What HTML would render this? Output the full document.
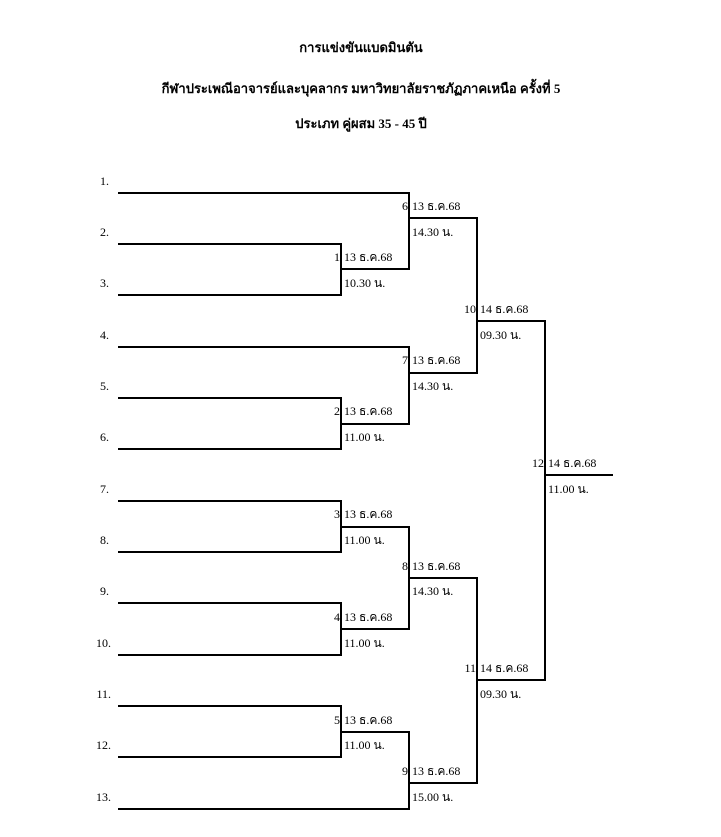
<!DOCTYPE html>
<html><head><meta charset="utf-8"><style>
body{margin:0;background:#fff;width:721px;height:837px;overflow:hidden;font-family:"Liberation Serif","DejaVu Serif",serif;}
svg{position:absolute;left:0;top:0}
text{font-family:"Liberation Serif","DejaVu Serif",serif;font-size:12px;fill:#000}
.t{font-weight:bold;font-size:13px}
.d{fill:#222233}
</style></head><body>
<svg width="721" height="837" xmlns="http://www.w3.org/2000/svg">
<g text-anchor="middle" class="t">
<text class="t" x="361" y="52">การแข่งขันแบดมินตัน</text>
<text class="t" x="361" y="93">กีฬาประเพณีอาจารย์และบุคลากร มหาวิทยาลัยราชภัฏภาคเหนือ ครั้งที่ 5</text>
<text class="t" x="361" y="128">ประเภท คู่ผสม 35 - 45 ปี</text>
</g>
<g stroke="#000" stroke-width="2" fill="none">
<polyline points="118,193 409,193 409,269 341,269"/>
<polyline points="118,244 341,244 341,295 118,295"/>
<polyline points="409,218 477,218 477,373 409,373"/>
<polyline points="118,347 409,347 409,424 341,424"/>
<polyline points="118,398 341,398 341,449 118,449"/>
<polyline points="477,321 545,321 545,680 477,680"/>
<line x1="545" y1="475" x2="613" y2="475"/>
<polyline points="118,501 341,501 341,552 118,552"/>
<polyline points="118,603 341,603 341,655 118,655"/>
<polyline points="341,527 409,527 409,629 341,629"/>
<polyline points="409,578 477,578 477,783 409,783"/>
<polyline points="118,706 341,706 341,757 118,757"/>
<polyline points="341,732 409,732 409,809 118,809"/>
</g>
<g text-anchor="end">
<text x="109" y="185">1.</text><text x="109" y="236">2.</text><text x="109" y="287">3.</text>
<text x="109" y="339">4.</text><text x="109" y="390">5.</text><text x="109" y="441">6.</text>
<text x="109" y="493">7.</text><text x="109" y="544">8.</text><text x="109" y="595">9.</text>
<text x="111" y="647">10.</text><text x="111" y="698">11.</text><text x="111" y="749">12.</text>
<text x="111" y="801">13.</text>
<text x="340" y="261">1</text><text x="408" y="210">6</text><text x="476" y="313">10</text>
<text x="340" y="415">2</text><text x="408" y="364">7</text><text x="544" y="467">12</text>
<text x="340" y="518">3</text><text x="340" y="621">4</text><text x="408" y="570">8</text>
<text x="476" y="672">11</text><text x="340" y="724">5</text><text x="408" y="775">9</text>
</g>
<g class="d">
<text x="344" y="261">13 ธ.ค.68</text><text x="344" y="287">10.30 น.</text>
<text x="412" y="210">13 ธ.ค.68</text><text x="412" y="236">14.30 น.</text>
<text x="480" y="313">14 ธ.ค.68</text><text x="480" y="339">09.30 น.</text>
<text x="344" y="415">13 ธ.ค.68</text><text x="344" y="441">11.00 น.</text>
<text x="412" y="364">13 ธ.ค.68</text><text x="412" y="390">14.30 น.</text>
<text x="548" y="467">14 ธ.ค.68</text><text x="548" y="493">11.00 น.</text>
<text x="344" y="518">13 ธ.ค.68</text><text x="344" y="544">11.00 น.</text>
<text x="344" y="621">13 ธ.ค.68</text><text x="344" y="647">11.00 น.</text>
<text x="412" y="570">13 ธ.ค.68</text><text x="412" y="595">14.30 น.</text>
<text x="480" y="672">14 ธ.ค.68</text><text x="480" y="698">09.30 น.</text>
<text x="344" y="724">13 ธ.ค.68</text><text x="344" y="749">11.00 น.</text>
<text x="412" y="775">13 ธ.ค.68</text><text x="412" y="801">15.00 น.</text>
</g>
</svg>
</body></html>
